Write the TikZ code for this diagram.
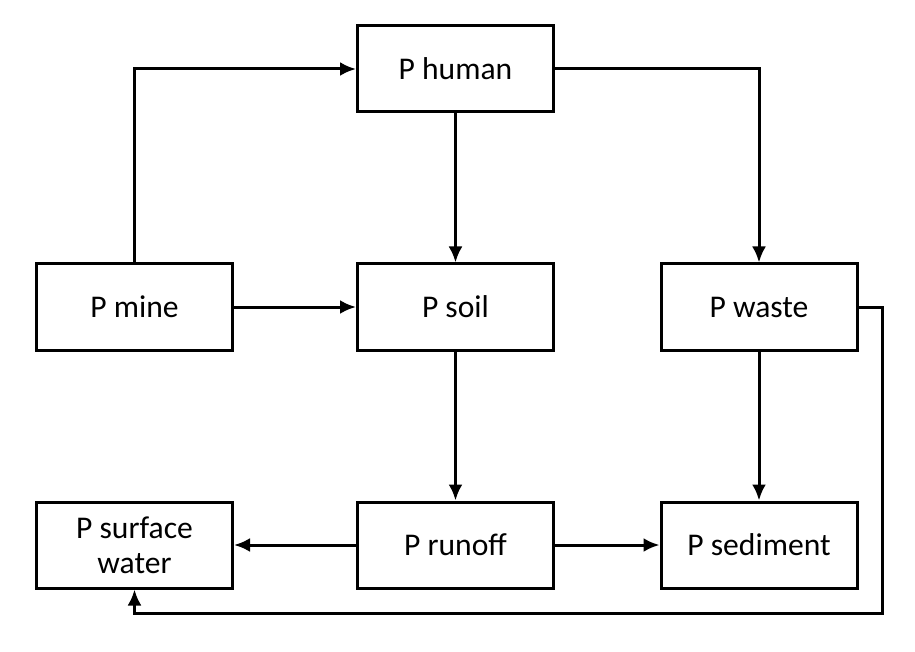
\documentclass[tikz,border=0pt]{standalone}
\usepackage{fontspec}
\setmainfont{Carlito}
\usetikzlibrary{arrows.meta}

\tikzset{
    pbox/.style = {draw, rectangle, line width = 1.5pt, minimum width = 98pt, minimum height = 43pt, align = center, inner sep = 2pt, font = \fontsize{15.8}{17.5}\selectfont},
    flow/.style = {-{Latex[length = 8pt, width = 7pt]}, line width = 1.5pt}
}

\begin{document}
\begin{tikzpicture}[x = 0.5pt, y = -0.5pt]
        \useasboundingbox (0, 0) rectangle (915, 652);

        % Nodes
        \node [pbox] (human) at (455.5, 69) {P human};
        \node [pbox] (mine) at (134.5, 307) {P mine};
        \node [pbox] (soil) at (455.5, 307) {P soil};
        \node [pbox] (waste) at (759, 307) {P waste};
        \node [pbox] (water) at (134.5, 545) {P surface\\water};
        \node [pbox] (runoff) at (455.5, 545) {P runoff};
        \node [pbox] (sediment) at (759, 545) {P sediment};

        \coordinate (loop) at (882, 613);

        % Draw the links
        \draw [flow] (mine.north) |- (human.west);
        \draw [flow] (human.east) -| (waste.north);
        \draw [flow] (human) -- (soil);
        \draw [flow] (mine) -- (soil);
        \draw [flow] (soil) -- (runoff);
        \draw [flow] (waste) -- (sediment);
        \draw [flow] (runoff) -- (water);
        \draw [flow] (runoff) -- (sediment);
        \draw [flow] (waste.east) -| (loop) -| (water.south);

    \end{tikzpicture}
\end{document}
